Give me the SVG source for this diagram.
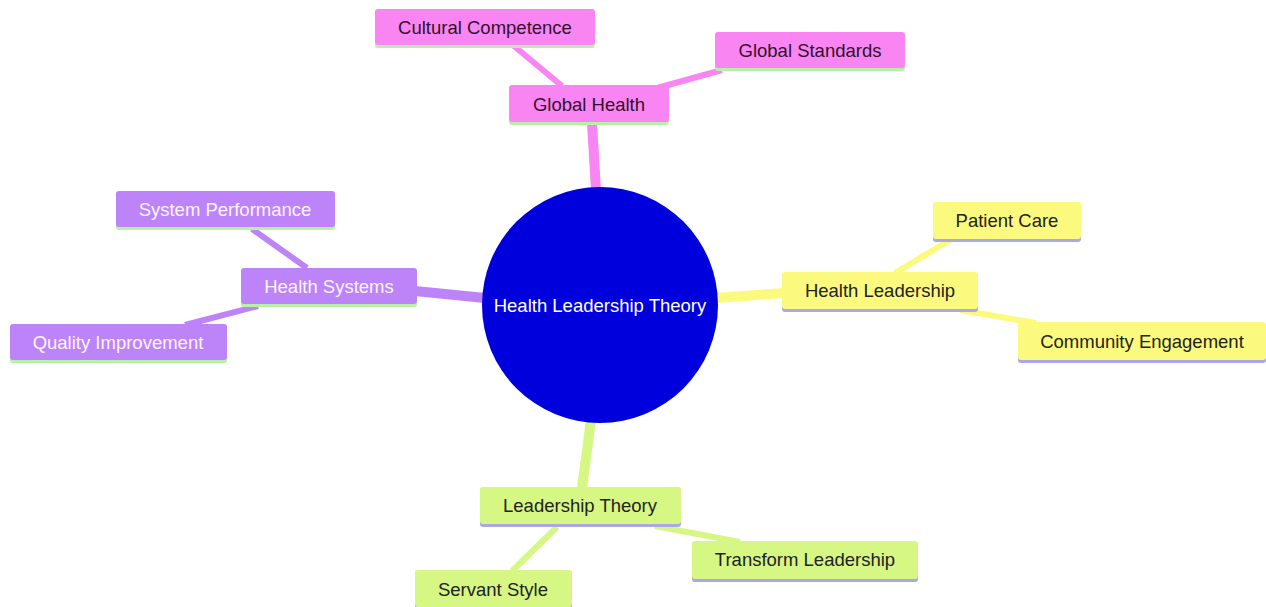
<svg xmlns="http://www.w3.org/2000/svg" width="1266" height="607" viewBox="0 0 1266 607">
<style>
text{font-family:"Liberation Sans",Arial,sans-serif;font-size:18.5px;text-anchor:middle;dominant-baseline:central}
.pk rect.b{fill:#f985f2}.pk text{fill:#33102f}
.pu rect.b{fill:#bd84fa}.pu text{fill:#fbf4ff}
.ye rect.b{fill:#fbfa7e}.ye text{fill:#222}
.gr rect.b{fill:#d6f784}.gr text{fill:#222}
.ug{fill:#b8f0a8}.ub{fill:#aaa8e8}
.e{fill:none;stroke-linecap:butt}
</style>
<rect width="1266" height="607" fill="#fff"/>
<g id="connectors">
<line class="e" x1="592" y1="123" x2="596" y2="190" stroke="#f985f2" stroke-width="10"/>
<line class="e" x1="514" y1="46" x2="562" y2="86" stroke="#f985f2" stroke-width="6"/>
<line class="e" x1="722" y1="70" x2="650" y2="90" stroke="#f985f2" stroke-width="6"/>
<line class="e" x1="415" y1="291" x2="485" y2="298" stroke="#bd84fa" stroke-width="10"/>
<line class="e" x1="252" y1="229" x2="307" y2="268" stroke="#bd84fa" stroke-width="6"/>
<line class="e" x1="185" y1="325" x2="258" y2="306" stroke="#bd84fa" stroke-width="6"/>
<line class="e" x1="715" y1="298" x2="784" y2="293" stroke="#fbfa7e" stroke-width="10"/>
<line class="e" x1="950" y1="240" x2="895" y2="273" stroke="#fbfa7e" stroke-width="6"/>
<line class="e" x1="960" y1="310" x2="1036" y2="323" stroke="#fbfa7e" stroke-width="6"/>
<line class="e" x1="591" y1="420" x2="582" y2="488" stroke="#d6f784" stroke-width="10"/>
<line class="e" x1="655" y1="526" x2="740" y2="542" stroke="#d6f784" stroke-width="6"/>
<line class="e" x1="557" y1="527" x2="512" y2="571" stroke="#d6f784" stroke-width="6"/>
</g>
<g id="root">
<circle cx="600" cy="305" r="118" fill="#0000dd"/>
<text x="600" y="305" fill="#fff">Health Leadership Theory</text>
</g>
<g id="global-health" class="pk"><rect class="ug" x="509" y="86" width="160" height="39" rx="3"/><rect class="b" x="509" y="85" width="160" height="37" rx="3"/><text x="589" y="104">Global Health</text></g>
<g id="cultural-competence" class="pk"><rect class="ug" x="375" y="10" width="220" height="38" rx="3"/><rect class="b" x="375" y="9" width="220" height="36" rx="3"/><text x="485" y="27">Cultural Competence</text></g>
<g id="global-standards" class="pk"><rect class="ug" x="715" y="33" width="190" height="38" rx="3"/><rect class="b" x="715" y="32" width="190" height="36" rx="3"/><text x="810" y="50">Global Standards</text></g>
<g id="health-systems" class="pu"><rect class="ug" x="241" y="269" width="176" height="38" rx="3"/><rect class="b" x="241" y="268" width="176" height="36" rx="3"/><text x="329" y="286">Health Systems</text></g>
<g id="system-performance" class="pu"><rect class="ug" x="116" y="192" width="219" height="38" rx="3"/><rect class="b" x="116" y="191" width="219" height="36" rx="3"/><text x="225" y="209">System Performance</text></g>
<g id="quality-improvement" class="pu"><rect class="ug" x="10" y="325" width="217" height="38" rx="3"/><rect class="b" x="10" y="324" width="217" height="36" rx="3"/><text x="118" y="342">Quality Improvement</text></g>
<g id="health-leadership" class="ye"><rect class="ub" x="782" y="273" width="196" height="39" rx="3"/><rect class="b" x="782" y="272" width="196" height="37" rx="3"/><text x="880" y="290">Health Leadership</text></g>
<g id="patient-care" class="ye"><rect class="ub" x="933" y="203" width="148" height="39" rx="3"/><rect class="b" x="933" y="202" width="148" height="37" rx="3"/><text x="1007" y="220">Patient Care</text></g>
<g id="community-engagement" class="ye"><rect class="ub" x="1018" y="323" width="248" height="40" rx="3"/><rect class="b" x="1018" y="322" width="248" height="38" rx="3"/><text x="1142" y="341">Community Engagement</text></g>
<g id="leadership-theory" class="gr"><rect class="ub" x="480" y="488" width="201" height="39" rx="3"/><rect class="b" x="480" y="487" width="201" height="37" rx="3"/><text x="580" y="505">Leadership Theory</text></g>
<g id="transform-leadership" class="gr"><rect class="ub" x="692" y="542" width="226" height="40" rx="3"/><rect class="b" x="692" y="541" width="226" height="38" rx="3"/><text x="805" y="559">Transform Leadership</text></g>
<g id="servant-style" class="gr"><rect class="ub" x="415" y="571" width="157" height="38" rx="3"/><rect class="b" x="415" y="570" width="157" height="37" rx="3"/><text x="493" y="589">Servant Style</text></g>
</svg>
